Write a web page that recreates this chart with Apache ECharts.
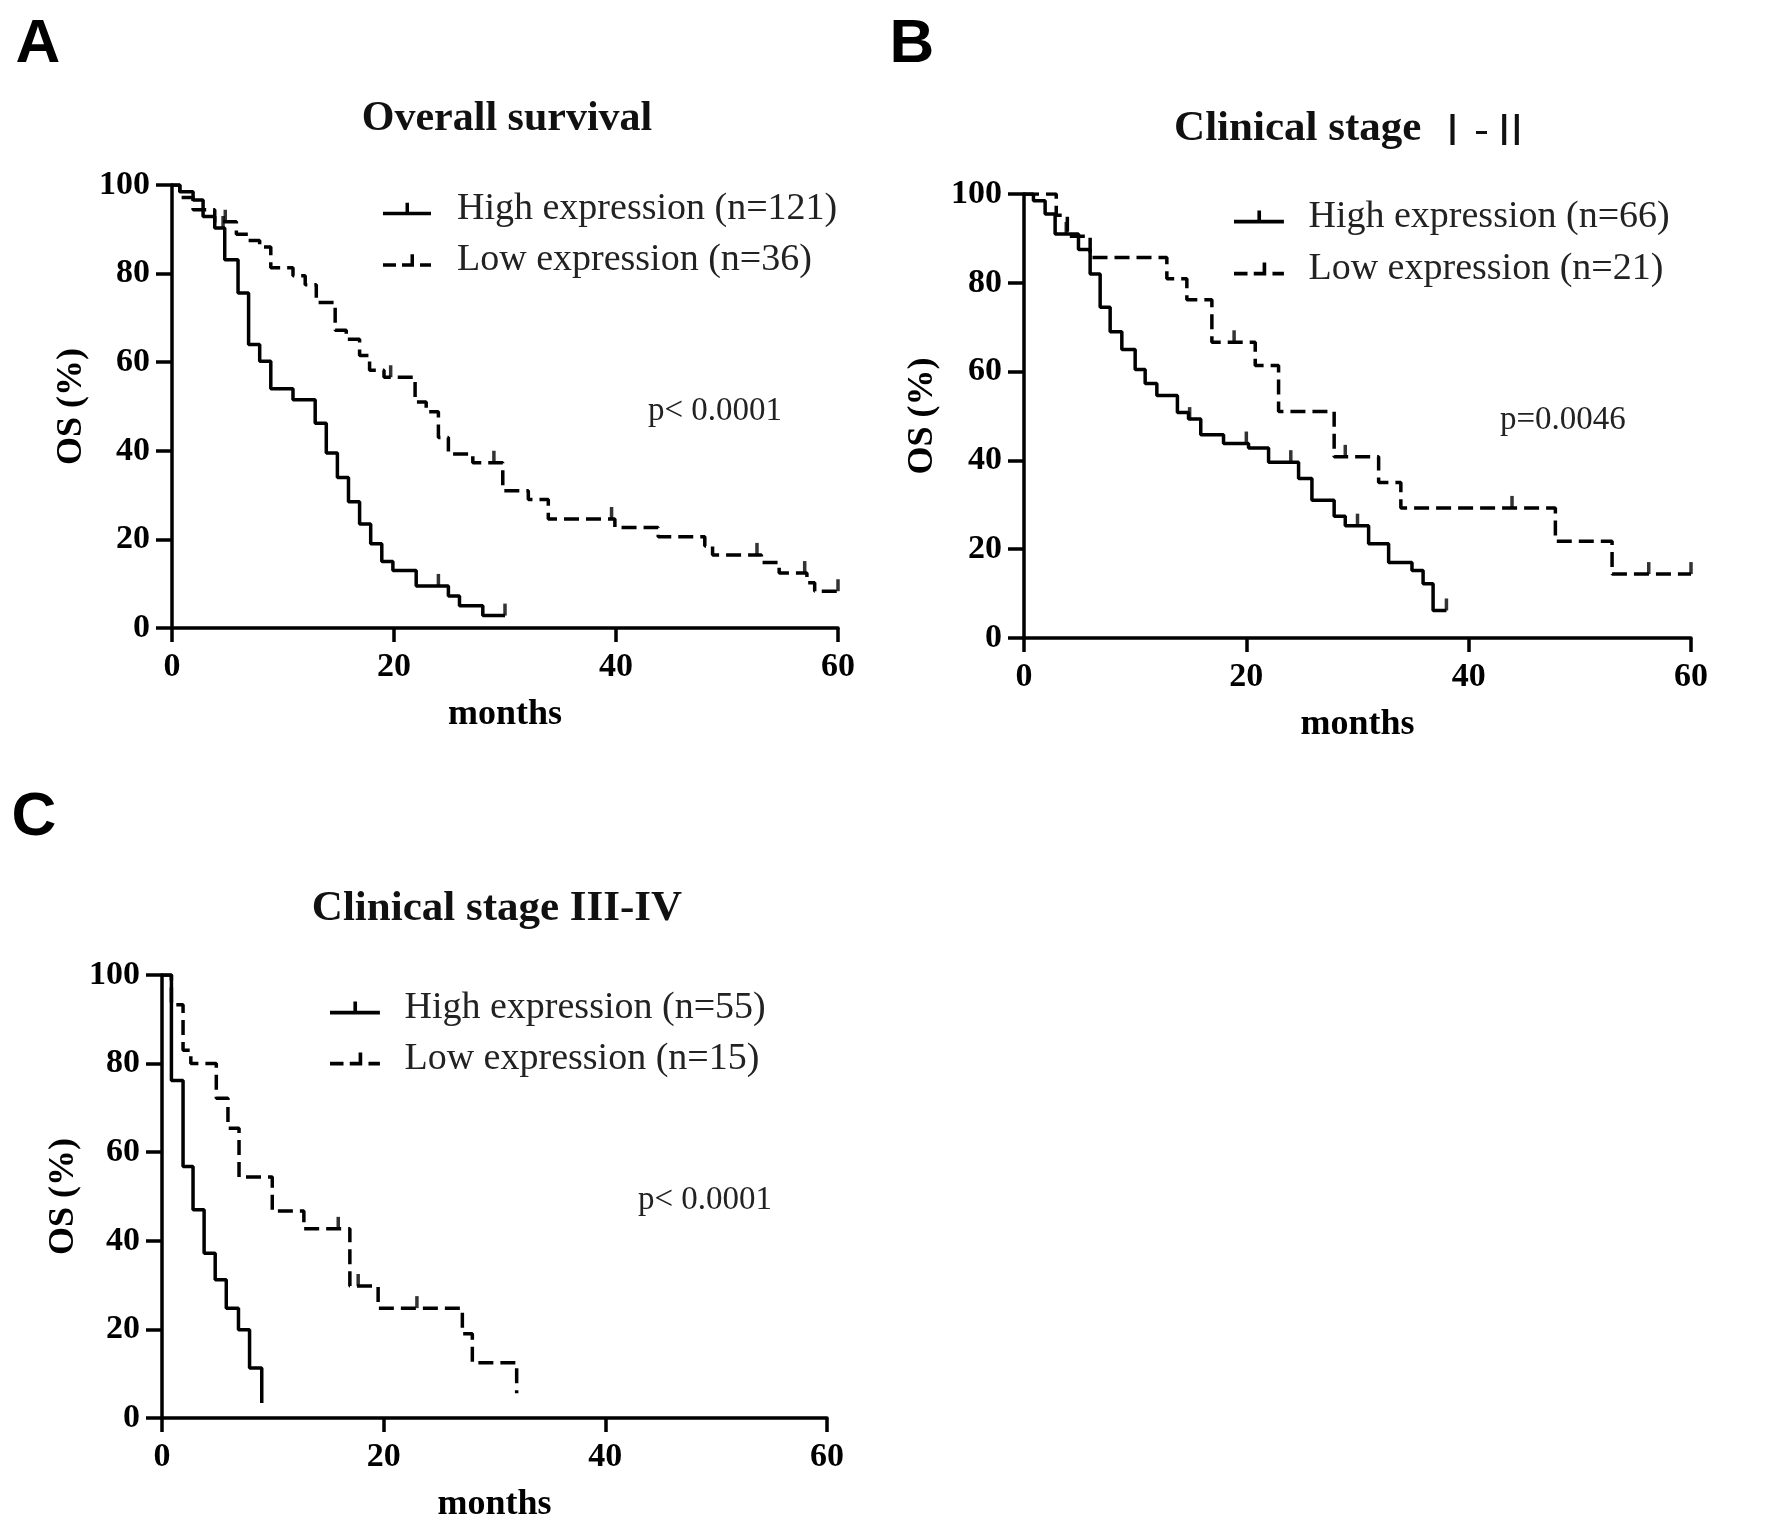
<!DOCTYPE html>
<html>
<head>
<meta charset="utf-8">
<script src="https://cdn.jsdelivr.net/npm/echarts@6/dist/echarts.min.js"></script>
<style>
html,body{margin:0;padding:0;background:#fff;}
#chart{width:1772px;height:1535px;}
</style>
</head>
<body>
<div id="chart"></div>
<script>
// ---------- DATA ----------
const xTicks = [0, 20, 40, 60];
const yTicks = [0, 20, 40, 60, 80, 100];

const panelTitles = ['Overall survival', 'Clinical stage', 'Clinical stage III-IV'];
const titleSuffixB = '\u2160-\u2161';
const panelLetters = ['A', 'B', 'C'];
const pValues = ['p< 0.0001', 'p=0.0046', 'p< 0.0001'];
const highNames = ['High expression (n=121)', 'High expression (n=66)', 'High expression (n=55)'];
const lowNames = ['Low expression (n=36)', 'Low expression (n=21)', 'Low expression (n=15)'];

// Panel A - overall survival (months, OS %)
const aHighT = [0, 0.7, 1.9, 2.8, 3.85, 4.75, 5.95, 6.9, 7.9, 8.9, 10.9, 12.9, 13.9, 14.9, 15.9, 16.9, 17.9, 18.9, 19.9, 22.0, 24.9, 25.9, 28.0, 30.0];
const aHighS = [100, 98.5, 96.6, 92.9, 90.3, 83.1, 75.6, 64.0, 60.2, 54.0, 51.5, 46.2, 39.5, 34.0, 28.5, 23.5, 19.0, 15.0, 13.0, 9.5, 7.2, 5.0, 2.8, 2.8];
const aHighCensT = [4.6, 24.0, 30.0];
const aHighCensS = [90.3, 9.5, 2.8];
const aLowT = [0, 0.7, 1.9, 3.85, 5.8, 6.85, 7.9, 8.9, 10.9, 12.0, 13.0, 14.7, 15.7, 16.9, 17.8, 19.1, 21.9, 22.9, 24.0, 24.9, 27.1, 29.8, 32.1, 33.9, 39.9, 43.8, 48.0, 48.7, 53.1, 54.7, 57.2, 57.9, 60.0];
const aLowS = [100, 97.2, 94.4, 91.7, 88.9, 87.5, 86.0, 81.3, 79.5, 77.5, 73.5, 67.2, 65.2, 61.5, 58.2, 56.6, 51.0, 48.8, 43.0, 39.3, 37.3, 31.0, 29.0, 24.6, 22.7, 20.6, 18.5, 16.5, 14.8, 12.4, 10.2, 8.3, 8.3];
const aLowCensT = [4.8, 19.7, 29.0, 39.6, 52.7, 57.0, 60.0];
const aLowCensS = [91.7, 56.6, 37.3, 24.6, 16.5, 12.4, 8.3];

// Panel B - clinical stage I-II
const bHighT = [0, 0.85, 1.9, 2.8, 4.9, 5.95, 6.85, 7.75, 8.8, 10.0, 10.9, 11.95, 13.8, 14.8, 15.9, 17.95, 20.2, 22.0, 24.7, 25.9, 27.9, 28.9, 31.0, 32.8, 34.9, 35.9, 36.8, 38.0];
const bHighS = [100, 98.5, 95.5, 91.0, 87.5, 82.0, 74.5, 69.0, 65.0, 60.5, 57.3, 54.6, 50.8, 49.3, 45.8, 43.8, 42.8, 39.6, 35.9, 31.0, 27.4, 25.3, 21.2, 17.0, 15.2, 12.2, 6.2, 6.2];
const bHighCensT = [3.8, 14.9, 20.0, 24.0, 30.0, 38.0];
const bHighCensS = [91.0, 49.3, 43.8, 39.6, 25.3, 6.2];
const bLowT = [0, 2.9, 3.9, 5.95, 12.85, 14.65, 16.9, 20.8, 22.9, 27.9, 31.9, 33.9, 47.8, 52.9, 60.0];
const bLowS = [100, 95.2, 90.5, 85.7, 80.9, 76.2, 66.6, 61.4, 51.0, 40.8, 35.0, 29.3, 21.8, 14.4, 14.4];
const bLowCensT = [18.9, 28.9, 43.9, 56.2, 60.0];
const bLowCensS = [66.6, 40.8, 29.3, 14.4, 14.4];

// Panel C - clinical stage III-IV
const cHighT = [0, 0.85, 1.9, 2.8, 3.8, 4.8, 5.8, 6.9, 7.9, 9.0];
const cHighS = [100, 76.2, 56.8, 47.0, 37.2, 31.2, 24.8, 19.9, 11.3, 3.4];
const cHighCensT = [];
const cHighCensS = [];
const cLowT = [0, 0.85, 1.9, 2.6, 4.9, 5.95, 6.95, 9.95, 12.8, 16.95, 19.5, 27.1, 28.0, 32.0];
const cLowS = [100, 93.3, 83.0, 80.0, 72.2, 65.4, 54.4, 46.7, 42.7, 29.8, 24.8, 19.0, 12.5, 5.6];
const cLowCensT = [15.9, 17.7, 23.0];
const cLowCensS = [42.7, 29.8, 24.8];

// ---------- BUILD ----------
function pairs(t, s) { return t.map((v, i) => [v, s[i]]); }

const SERIF = 'Liberation Serif';
const SANS = 'Liberation Sans';

const grids = [
  { left: 172, top: 185, width: 666, height: 443 },
  { left: 1024, top: 194, width: 667, height: 444 },
  { left: 162, top: 975, width: 665, height: 443 }
];
const yNameGaps = [82, 83, 80];
const xNameGaps = [69, 69, 69];

const panels = [
  { high: pairs(aHighT, aHighS), low: pairs(aLowT, aLowS), hc: pairs(aHighCensT, aHighCensS), lc: pairs(aLowCensT, aLowCensS) },
  { high: pairs(bHighT, bHighS), low: pairs(bLowT, bLowS), hc: pairs(bHighCensT, bHighCensS), lc: pairs(bLowCensT, bLowCensS) },
  { high: pairs(cHighT, cHighS), low: pairs(cLowT, cLowS), hc: pairs(cHighCensT, cHighCensS), lc: pairs(cLowCensT, cLowCensS) }
];

const axisLineStyle = { color: '#000', width: 3.5 };
const tickLabel = { fontFamily: SERIF, fontWeight: 'bold', fontSize: 34, color: '#000' };
const nameStyle = { fontFamily: SERIF, fontWeight: 'bold', fontSize: 36, color: '#000' };

const xAxes = grids.map((g, i) => ({
  gridIndex: i, type: 'value', min: xTicks[0], max: xTicks[xTicks.length - 1], interval: 20,
  axisLine: { show: true, lineStyle: axisLineStyle },
  axisTick: { show: true, length: 14, lineStyle: { color: '#000', width: 3.5 } },
  axisLabel: Object.assign({ margin: 22 }, tickLabel),
  splitLine: { show: false },
  name: 'months', nameLocation: 'middle', nameGap: xNameGaps[i], nameTextStyle: nameStyle
}));
const yAxes = grids.map((g, i) => ({
  gridIndex: i, type: 'value', min: yTicks[0], max: yTicks[yTicks.length - 1], interval: 20,
  axisLine: { show: true, lineStyle: axisLineStyle },
  axisTick: { show: true, length: 16, lineStyle: { color: '#000', width: 3.5 } },
  axisLabel: Object.assign({ margin: 22 }, tickLabel),
  splitLine: { show: false },
  name: 'OS (%)', nameLocation: 'middle', nameGap: yNameGaps[i], nameTextStyle: nameStyle
}));

const series = [];
panels.forEach((p, i) => {
  series.push({
    name: highNames[i], type: 'line', step: 'end', xAxisIndex: i, yAxisIndex: i,
    data: p.high, symbol: 'none', itemStyle: { color: '#000' },
    lineStyle: { color: '#000', width: 3.5, type: 'solid' }, z: 3
  });
  series.push({
    name: lowNames[i], type: 'line', step: 'end', xAxisIndex: i, yAxisIndex: i,
    data: p.low, symbol: 'none', itemStyle: { color: '#000' },
    lineStyle: { color: '#000', width: 3.5, type: [15, 7] }, z: 3
  });
  series.push({
    name: highNames[i] + ' censored', type: 'scatter', xAxisIndex: i, yAxisIndex: i,
    data: p.hc, symbol: 'rect', symbolSize: [3.5, 12], symbolOffset: [0, -6],
    itemStyle: { color: '#000' }, z: 4
  });
  series.push({
    name: lowNames[i] + ' censored', type: 'scatter', xAxisIndex: i, yAxisIndex: i,
    data: p.lc, symbol: 'rect', symbolSize: [3.5, 12], symbolOffset: [0, -6],
    itemStyle: { color: '#000' }, z: 4
  });
});

const solidIcon = 'path://M0,9L48,9L48,12.5L0,12.5Z M22.5,0L26,0L26,10L22.5,10Z';
const dashIcon = 'path://M0,9L13,9L13,12.5L0,12.5Z M19,9L31,9L31,12.5L19,12.5Z M27.5,0L31,0L31,10L27.5,10Z M37,9L48,9L48,12.5L37,12.5Z';

const legendPos = [
  { left: 383, top: 190, itemWidth: 48, gap: 13.5, pad: 21 },
  { left: 1234, top: 198, itemWidth: 51, gap: 14, pad: 19 },
  { left: 330, top: 989, itemWidth: 51, gap: 13, pad: 19 }
];
const legends = legendPos.map((lp, i) => ({
  orient: 'vertical', left: lp.left, top: lp.top, padding: 0,
  itemWidth: lp.itemWidth, itemHeight: 13, itemGap: lp.gap,
  selectedMode: false,
  itemStyle: { color: '#000', borderWidth: 0 },
  textStyle: { fontFamily: SERIF, fontSize: 38, lineHeight: 38, color: '#222', padding: [0, 0, 0, lp.pad] },
  data: [
    { name: highNames[i], icon: solidIcon },
    { name: lowNames[i], icon: dashIcon }
  ]
}));

const titleCenters = [[507, 119], [1353, 129], [497, 909]];
const titleSizes = [42, 43, 43];
const letterCenters = [[38, 45], [912, 45], [34, 818]];
const pPos = [[648, 411], [1500, 420], [638, 1200]];

const titles = [];
titleCenters.forEach((c, i) => {
  const t = {
    text: panelTitles[i], left: c[0], top: c[1], textAlign: 'center', textVerticalAlign: 'middle', padding: 0,
    textStyle: { fontFamily: SERIF, fontWeight: 'bold', fontSize: titleSizes[i], color: '#111' }
  };
  if (i === 1) {
    t.text = '{a|' + panelTitles[i] + '}{b| ' + titleSuffixB + '}';
    t.textStyle.rich = {
      a: { fontFamily: SERIF, fontWeight: 'bold', fontSize: titleSizes[i], color: '#111' },
      b: { fontFamily: 'Noto Sans CJK SC', fontWeight: 'normal', fontSize: 43, color: '#111' }
    };
  }
  titles.push(t);
});
letterCenters.forEach((c, i) => titles.push({
  text: panelLetters[i], left: c[0], top: c[1], textAlign: 'center', textVerticalAlign: 'middle', padding: 0,
  textStyle: { fontFamily: SANS, fontWeight: 'bold', fontSize: 62, color: '#000' }
}));
pPos.forEach((c, i) => titles.push({
  text: pValues[i], left: c[0], top: c[1], textAlign: 'left', textVerticalAlign: 'middle', padding: 0,
  textStyle: { fontFamily: SERIF, fontWeight: 'normal', fontSize: 33, color: '#222' }
}));

const chart = echarts.init(document.getElementById('chart'), null, { renderer: 'canvas' });
chart.setOption({
  backgroundColor: '#fff',
  animation: false,
  title: titles,
  legend: legends,
  grid: grids,
  xAxis: xAxes,
  yAxis: yAxes,
  series: series
});
</script>
</body>
</html>
